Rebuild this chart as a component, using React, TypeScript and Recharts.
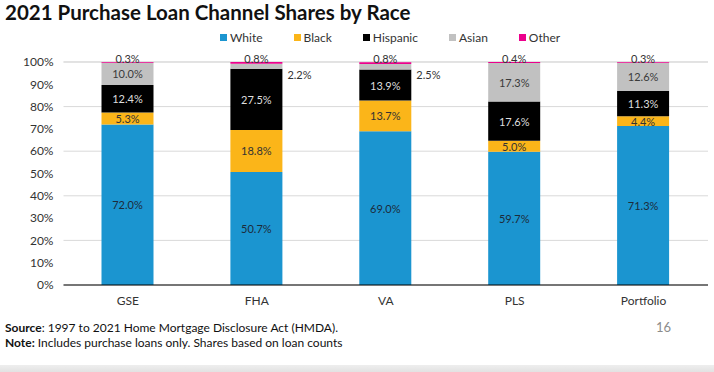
import { Bar, BarChart, CartesianGrid, LabelList, XAxis, YAxis } from 'recharts';

const channels = ['GSE', 'FHA', 'VA', 'PLS', 'Portfolio'];
const white = [72.0, 50.7, 69.0, 59.7, 71.3];
const black = [5.3, 18.8, 13.7, 5.0, 4.4];
const hispanic = [12.4, 27.5, 13.9, 17.6, 11.3];
const asian = [10.0, 2.2, 2.5, 17.3, 12.6];
const other = [0.3, 0.8, 0.8, 0.4, 0.3];
const yTicks = [0, 10, 20, 30, 40, 50, 60, 70, 80, 90, 100];

const series = [
  { key: 'White', values: white, color: '#1b95d0', text: '#1d2b3a' },
  { key: 'Black', values: black, color: '#fbb519', text: '#333333' },
  { key: 'Hispanic', values: hispanic, color: '#000000', text: '#dedede' },
  { key: 'Asian', values: asian, color: '#c1c1c1', text: '#3a3a3a' },
  { key: 'Other', values: other, color: '#ec008c', text: '#333333' },
];

const data = channels.map((name, i) => {
  const row: Record<string, string | number> = { name };
  series.forEach((s) => {
    row[s.key] = s.values[i];
  });
  return row;
});

const font = 'Lato, "Open Sans", sans-serif';
const fmt = (v: number) => `${v.toFixed(1)}%`;

function CenterLabel(color: string) {
  return (props: any) => {
    const { x, y, width, height, value } = props;
    return (
      <text
        x={x + width / 2}
        y={y + height / 2}
        textAnchor="middle"
        dominantBaseline="central"
        fill={color}
        fontSize={11}
        fontFamily={font}
      >
        {fmt(value)}
      </text>
    );
  };
}

function AsianLabel(props: any) {
  const { x, y, width, height, value } = props;
  if (value < 5) {
    return (
      <text
        x={x + width + 5}
        y={y + height / 2 + 8}
        textAnchor="start"
        dominantBaseline="central"
        fill="#333333"
        fontSize={11}
        fontFamily={font}
      >
        {fmt(value)}
      </text>
    );
  }
  return CenterLabel('#3a3a3a')(props);
}

function TopLabel(props: any) {
  const { x, y, width, value } = props;
  return (
    <text
      x={x + width / 2}
      y={y - 4}
      textAnchor="middle"
      dominantBaseline="central"
      fill="#333333"
      fontSize={11}
      fontFamily={font}
    >
      {fmt(value)}
    </text>
  );
}

export default function App() {
  return (
    <div
      style={{
        position: 'absolute',
        left: 0,
        top: 0,
        width: 714,
        height: 372,
        background: '#ffffff',
        fontFamily: font,
        overflow: 'hidden',
      }}
    >
      <div
        style={{
          position: 'absolute',
          left: 5,
          top: 0,
          fontSize: 20.5,
          lineHeight: 'normal',
          fontWeight: 700,
          color: '#111111',
          whiteSpace: 'nowrap',
        }}
      >
        2021 Purchase Loan Channel Shares by Race
      </div>

      <div
        style={{
          position: 'absolute',
          left: 220,
          top: 30,
          display: 'flex',
          alignItems: 'center',
          fontSize: 12,
          color: '#333333',
        }}
      >
        {series.map((s) => (
          <div key={s.key} style={{ display: 'flex', alignItems: 'center', marginRight: 31 }}>
            <span
              style={{ width: 7, height: 7, background: s.color, display: 'inline-block', marginRight: 3 }}
            />
            <span>{s.key}</span>
          </div>
        ))}
      </div>

      <BarChart
        width={714}
        height={372}
        data={data}
        margin={{ top: 62, right: 6, left: 0, bottom: 57 }}
        barSize={52}
        style={{ position: 'absolute', left: 0, top: 0 }}
      >
        <CartesianGrid vertical={false} stroke="#d9d9d9" />
        <XAxis
          dataKey="name"
          tickLine={false}
          axisLine={{ stroke: '#000000' }}
          tick={{ fill: '#333333', fontSize: 12, fontFamily: font }}
          tickMargin={5}
          height={30}
          interval={0}
        />
        <YAxis
          type="number"
          domain={[0, 100]}
          ticks={yTicks}
          tickFormatter={(v: number) => `${v}%`}
          tickLine={false}
          axisLine={false}
          tick={{ fill: '#333333', fontSize: 12, fontFamily: font }}
          tickMargin={4}
          width={63.5}
        />
        {series.map((s) => (
          <Bar key={s.key} dataKey={s.key} stackId="a" fill={s.color} isAnimationActive={false}>
            <LabelList
              dataKey={s.key}
              content={
                s.key === 'Other' ? TopLabel : s.key === 'Asian' ? AsianLabel : CenterLabel(s.text)
              }
            />
          </Bar>
        ))}
      </BarChart>

      <div
        style={{
          position: 'absolute',
          left: 5,
          top: 320,
          fontSize: 12,
          lineHeight: '15px',
          color: '#111111',
          whiteSpace: 'nowrap',
        }}
      >
        <div>
          <b>Source</b>: 1997 to 2021 Home Mortgage Disclosure Act (HMDA).
        </div>
        <div>
          <b>Note:</b> Includes purchase loans only. Shares based on loan counts
        </div>
      </div>
      <div style={{ position: 'absolute', left: 656, top: 319, fontSize: 13, color: '#8c8c8c' }}>16</div>
      <div
        style={{
          position: 'absolute',
          left: 0,
          top: 365,
          width: 714,
          height: 7,
          background: 'linear-gradient(#eeeeee, #e2e2e2)',
        }}
      />
    </div>
  );
}
